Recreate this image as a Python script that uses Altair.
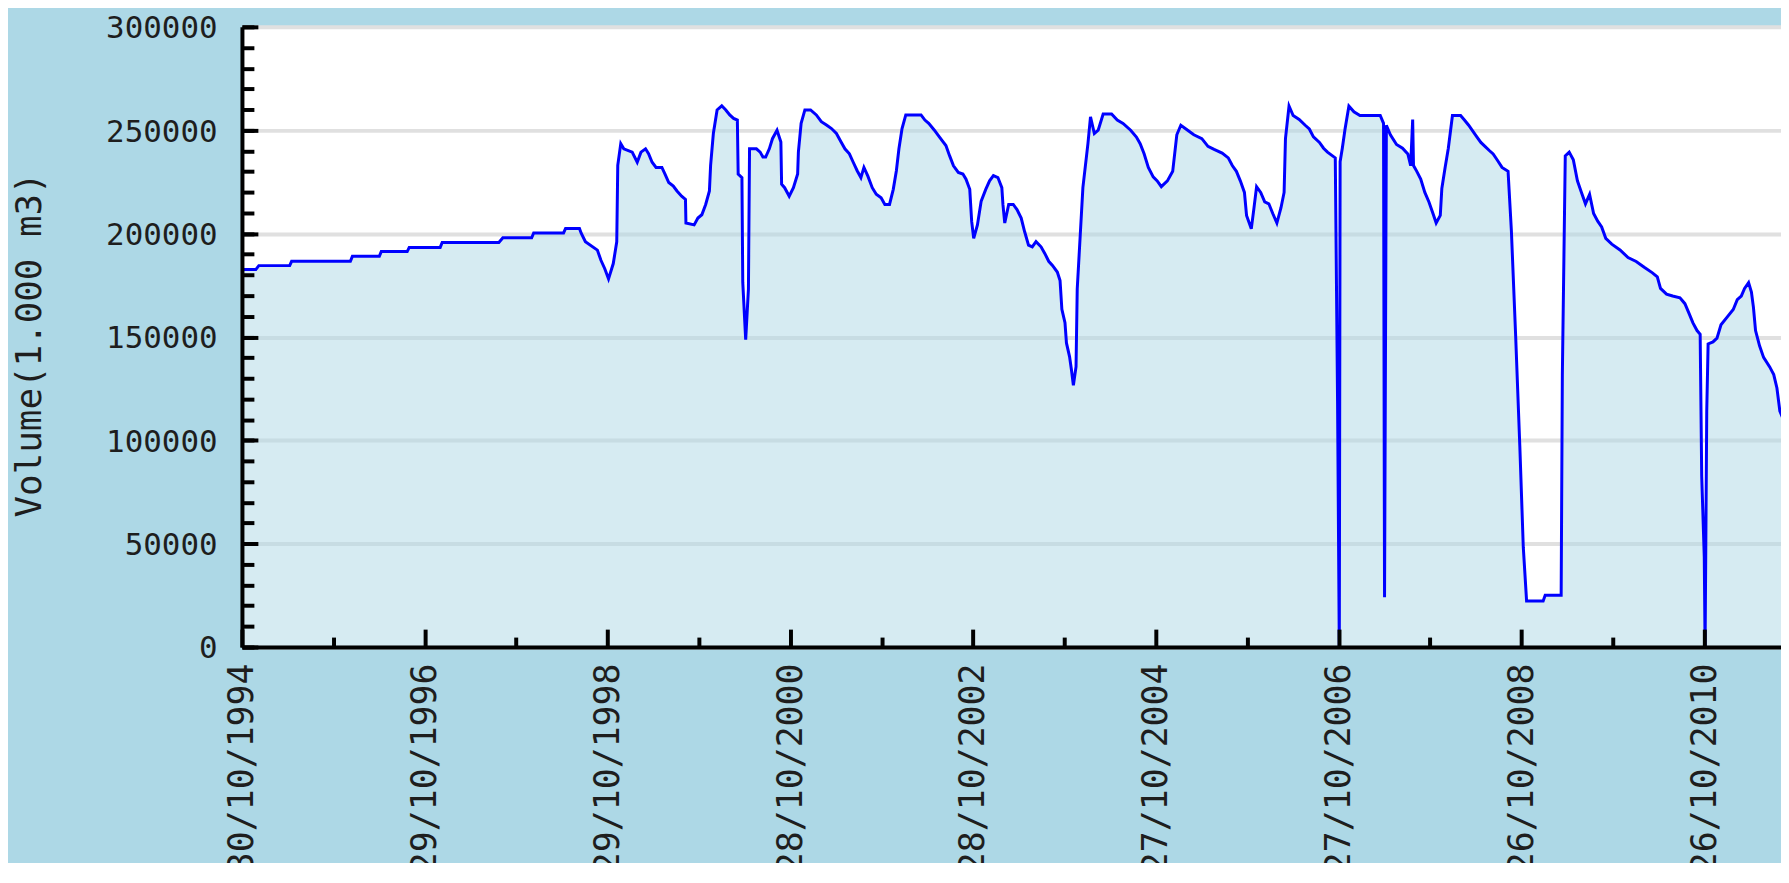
import altair as alt
import pandas as pd

# ---- data (decimal year, volume in 1.000 m3) ----
YEARS = [
    1994.827, 1994.979, 1995.012, 1995.350, 1995.371, 1996.014, 1996.036, 1996.330, 1996.351, 1996.634,
    1996.656, 1996.994, 1997.016, 1997.636, 1997.680, 1997.995, 1998.017, 1998.344, 1998.366, 1998.518,
    1998.537, 1998.583, 1998.714, 1998.753, 1998.795, 1998.836, 1998.888, 1998.926, 1998.937, 1998.970,
    1999.003, 1999.095, 1999.150, 1999.191, 1999.241, 1999.274, 1999.313, 1999.356, 1999.420, 1999.454,
    1999.495, 1999.545, 1999.585, 1999.636, 1999.678, 1999.683, 1999.773, 1999.814, 1999.857, 1999.899,
    1999.940, 1999.953, 1999.983, 2000.024, 2000.075, 2000.119, 2000.162, 2000.204, 2000.245, 2000.254,
    2000.295, 2000.304, 2000.336, 2000.366, 2000.378, 2000.453, 2000.494, 2000.524, 2000.554, 2000.594,
    2000.628, 2000.678, 2000.720, 2000.728, 2000.761, 2000.811, 2000.857, 2000.903, 2000.911, 2000.941,
    2000.982, 2001.044, 2001.107, 2001.162, 2001.218, 2001.273, 2001.327, 2001.378, 2001.420, 2001.469,
    2001.511, 2001.554, 2001.595, 2001.628, 2001.670, 2001.719, 2001.763, 2001.816, 2001.857, 2001.908,
    2001.949, 2001.983, 2002.011, 2002.045, 2002.086, 2002.253, 2002.295, 2002.337, 2002.399, 2002.441,
    2002.482, 2002.525, 2002.565, 2002.608, 2002.661, 2002.711, 2002.745, 2002.786, 2002.807, 2002.829,
    2002.870, 2002.911, 2002.961, 2003.003, 2003.045, 2003.094, 2003.137, 2003.149, 2003.169, 2003.212,
    2003.262, 2003.303, 2003.349, 2003.386, 2003.429, 2003.470, 2003.511, 2003.566, 2003.607, 2003.650,
    2003.691, 2003.744, 2003.774, 2003.794, 2003.828, 2003.844, 2003.878, 2003.899, 2003.920, 2003.949,
    2003.962, 2003.995, 2004.024, 2004.079, 2004.107, 2004.149, 2004.191, 2004.245, 2004.337, 2004.399,
    2004.462, 2004.545, 2004.608, 2004.649, 2004.692, 2004.738, 2004.791, 2004.835, 2004.880, 2004.946,
    2005.004, 2005.049, 2005.093, 2005.168, 2005.235, 2005.323, 2005.390, 2005.457, 2005.545, 2005.612,
    2005.656, 2005.701, 2005.744, 2005.789, 2005.812, 2005.864, 2005.891, 2005.922, 2005.967, 2006.011,
    2006.056, 2006.099, 2006.144, 2006.189, 2006.223, 2006.238, 2006.277, 2006.322, 2006.388, 2006.454,
    2006.499, 2006.544, 2006.610, 2006.655, 2006.698, 2006.783, 2006.808, 2006.827, 2006.836, 2006.860,
    2006.890, 2006.932, 2006.987, 2007.053, 2007.275, 2007.311, 2007.322, 2007.342, 2007.386, 2007.453,
    2007.519, 2007.577, 2007.608, 2007.630, 2007.639, 2007.675, 2007.718, 2007.763, 2007.808, 2007.852,
    2007.887, 2007.932, 2007.949, 2007.985, 2008.020, 2008.065, 2008.154, 2008.198, 2008.242, 2008.287,
    2008.331, 2008.375, 2008.420, 2008.464, 2008.509, 2008.552, 2008.606, 2008.672, 2008.708, 2008.754,
    2008.800, 2008.838, 2008.874, 2009.055, 2009.077, 2009.252, 2009.265, 2009.297, 2009.340, 2009.385,
    2009.430, 2009.474, 2009.518, 2009.563, 2009.607, 2009.652, 2009.695, 2009.740, 2009.806, 2009.896,
    2009.984, 2010.073, 2010.161, 2010.251, 2010.304, 2010.339, 2010.405, 2010.472, 2010.552, 2010.606,
    2010.650, 2010.694, 2010.739, 2010.773, 2010.790, 2010.818, 2010.827, 2010.845, 2010.860, 2010.913,
    2010.957, 2011.001, 2011.068, 2011.135, 2011.179, 2011.223, 2011.259, 2011.303, 2011.334, 2011.356,
    2011.379, 2011.423, 2011.467, 2011.534, 2011.578, 2011.613, 2011.645, 2011.703,
]

VOLUME = [
    182600, 182600, 184500, 184500, 186600, 186600, 189000, 189000, 191300, 191300,
    193300, 193300, 195700, 195700, 198000, 198000, 200300, 200300, 202500, 202500,
    200200, 196100, 192000, 187100, 183000, 178100, 185500, 196000, 233000, 243500,
    241000, 239400, 234500, 239400, 241000, 238600, 234500, 232000, 232000, 228800,
    224700, 223000, 220600, 218100, 216500, 205100, 204200, 207500, 209100, 214100,
    220600, 233000, 248400, 259800, 261800, 259800, 257400, 255700, 254900, 228800,
    227100, 176500, 148700, 173200, 241000, 241000, 239400, 237000, 237000, 241000,
    245900, 250000, 244300, 223900, 222200, 218100, 222200, 228800, 239400, 253300,
    259800, 259800, 257400, 254100, 252500, 250800, 248400, 244300, 241000, 238600,
    234500, 230400, 227100, 232000, 227900, 222200, 219000, 217300, 214100, 214100,
    221400, 230400, 241000, 250800, 257400, 257400, 254900, 253300, 250000, 247500,
    245100, 242600, 237700, 232800, 229600, 228800, 226300, 221400, 205900, 197700,
    204200, 215700, 221400, 225500, 228000, 227100, 222200, 214100, 205100, 214100,
    214100, 211600, 207500, 201000, 194400, 193600, 196100, 193600, 190400, 186600,
    184600, 181400, 177300, 163400, 156900, 147100, 140500, 134000, 126600, 135600,
    173200, 199300, 222200, 243500, 256500, 248400, 250000, 257800, 257800, 254900,
    253300, 250000, 246700, 243500, 238600, 232000, 227400, 225500, 222700, 225500,
    230100, 247800, 252400, 250000, 247800, 245900, 242200, 240700, 238900, 236600,
    232900, 230100, 225500, 219900, 208800, 202300, 211600, 222700, 219900, 215300,
    214400, 209700, 205100, 212500, 219900, 245900, 261700, 257100, 255200, 252400,
    250600, 246800, 244100, 241300, 239400, 236600, 118800, 0, 234800, 241300,
    250600, 261700, 258900, 257100, 257100, 253300, 24100, 252400, 247800, 243100,
    241300, 238500, 232900, 255200, 232900, 230100, 226400, 219900, 215300, 209700,
    205100, 208800, 221800, 232000, 241300, 257100, 257100, 254800, 252400, 249600,
    246800, 244100, 242200, 240300, 238500, 235700, 232000, 230100, 201400, 151300,
    97400, 48300, 22300, 22300, 25000, 25000, 131800, 237600, 239400, 235700,
    225500, 219900, 214400, 219000, 209700, 206000, 203200, 197700, 194900, 192100,
    188400, 186500, 183700, 181000, 179100, 173500, 170700, 169800, 168900, 166100,
    161500, 156800, 153100, 151300, 82600, 43600, 0, 114100, 146600, 147600,
    149400, 155900, 159600, 163300, 168000, 169800, 173500, 176300, 171700, 164300,
    153100, 145700, 140100, 135500, 131800, 125300, 114100, 108000,
]

MAJOR_TICK_DATES = ["1994-10-30", "1996-10-29", "1998-10-29", "2000-10-28", "2002-10-28",
                    "2004-10-27", "2006-10-27", "2008-10-26", "2010-10-26"]
MINOR_TICK_DATES = ["1995-10-30", "1997-10-29", "1999-10-29", "2001-10-28", "2003-10-28",
                    "2005-10-27", "2007-10-27", "2009-10-26"]
X_DOMAIN = ["1994-10-30", "2011-08-29"]
Y_MAJOR = [0, 50000, 100000, 150000, 200000, 250000, 300000]
Y_MINOR = [0, 10000, 20000, 30000, 40000, 50000, 60000, 70000, 80000, 90000, 100000,
           110000, 120000, 130000, 140000, 150000, 160000, 170000, 180000, 190000, 200000,
           210000, 220000, 230000, 240000, 250000, 260000, 270000, 280000, 290000, 300000]
Y_TITLE = "Volume(1.000 m3)"


def year_to_date(y):
    yi = int(y)
    start = pd.Timestamp(yi, 1, 1)
    ndays = (pd.Timestamp(yi + 1, 1, 1) - start).days
    return (start + pd.Timedelta(days=(y - yi) * ndays)).floor("h")


def dt(s):
    y, m, d = (int(p) for p in s.split("-"))
    return alt.DateTime(year=y, month=m, date=d)


df = pd.DataFrame({"date": [year_to_date(y) for y in YEARS], "volume": VOLUME})

W, H = 1546, 623
FONT = "DejaVu Sans Mono"
TXT = "#1e1e1e"

xscale = alt.Scale(domain=[dt(X_DOMAIN[0]), dt(X_DOMAIN[1])], nice=False)
yscale = alt.Scale(domain=[0, 300000], nice=False)

ax_x_labels = alt.Axis(
    orient="bottom", values=[dt(s) for s in MAJOR_TICK_DATES], format="%d/%m/%Y",
    labelAngle=270, labelAlign="right", labelBaseline="middle", labelPadding=16,
    labelFont=FONT, labelFontSize=35, labelColor=TXT, labelFlush=False, labelOverlap=False,
    labelLimit=1000,
    ticks=False, domain=True, domainColor="black", domainWidth=4, grid=False, title=None, zindex=1,
)
ax_y_labels = alt.Axis(
    orient="left", values=Y_MAJOR, format="d", ticks=False, domain=True, domainColor="black",
    domainWidth=4, grid=False, labelPadding=25, labelOffset=2, labelFont=FONT, labelFontSize=31,
    labelColor=TXT, labelFlush=False, labelOverlap=False,
    title=Y_TITLE, titleFont=FONT, titleFontSize=36, titleFontWeight="normal", titleColor=TXT,
    titleAngle=270, titleX=-213, titleY=319, titleAlign="center", titleBaseline="middle", zindex=1,
)
ax_y_grid = alt.Axis(
    orient="left", values=Y_MAJOR, grid=True, gridColor="#E0E0E0", gridWidth=4,
    labels=False, ticks=False, domain=False, title=None, zindex=0,
)
ax_y_major = alt.Axis(
    orient="right", offset=-W, values=Y_MAJOR, tickSize=16, tickWidth=4, tickColor="black",
    labels=False, domain=False, grid=False, title=None, zindex=1,
)
ax_y_minor = alt.Axis(
    orient="right", offset=-W, values=Y_MINOR, tickSize=12, tickWidth=4, tickColor="black",
    labels=False, domain=False, grid=False, title=None, zindex=1,
)
ax_x_major = alt.Axis(
    orient="top", offset=-H, values=[dt(s) for s in MAJOR_TICK_DATES], tickSize=18, tickWidth=4,
    tickColor="black", labels=False, domain=False, grid=False, title=None, zindex=1,
)
ax_x_minor = alt.Axis(
    orient="top", offset=-H, values=[dt(s) for s in MINOR_TICK_DATES], tickSize=10, tickWidth=4,
    tickColor="black", labels=False, domain=False, grid=False, title=None, zindex=1,
)

base = alt.Chart(df)

area = base.mark_area(fill="#ADD8E6", fillOpacity=0.5, clip=True).encode(
    x=alt.X("date:T", scale=xscale, axis=ax_x_labels),
    y=alt.Y("volume:Q", scale=yscale, axis=ax_y_labels),
)
line = base.mark_line(color="#0000FF", strokeWidth=3, clip=True).encode(
    x=alt.X("date:T", scale=xscale, axis=None),
    y=alt.Y("volume:Q", scale=yscale, axis=ax_y_grid),
)
ticks_major = base.mark_line(opacity=0, clip=True).encode(
    x=alt.X("date:T", scale=xscale, axis=ax_x_major),
    y=alt.Y("volume:Q", scale=yscale, axis=ax_y_major),
)
ticks_minor = base.mark_line(opacity=0, clip=True).encode(
    x=alt.X("date:T", scale=xscale, axis=ax_x_minor),
    y=alt.Y("volume:Q", scale=yscale, axis=ax_y_minor),
)

chart = (
    alt.layer(area, line, ticks_major, ticks_minor)
    .resolve_axis(x="independent", y="independent")
    .properties(
        width=W, height=H,
        autosize=alt.AutoSizeParams(type="none"),
        padding={"left": 235, "top": 17, "right": 0, "bottom": 215},
        background="#ADD8E6",
    )
    .configure_view(stroke=None, fill="white")
)

chart.save("out.html", embed_options={"renderer": "svg", "actions": False})
